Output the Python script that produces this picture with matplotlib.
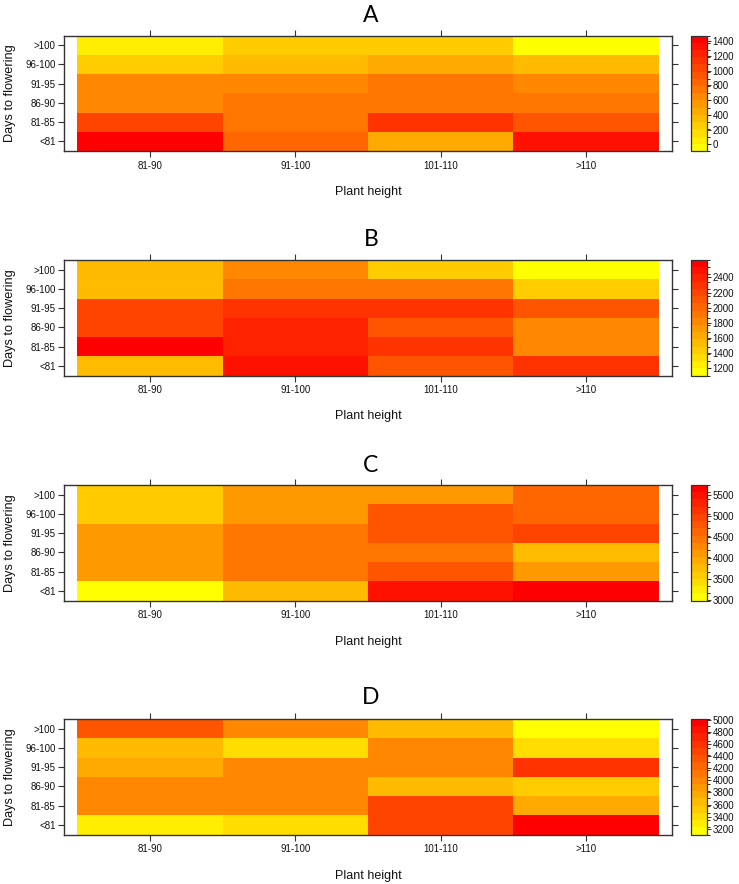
import numpy as np
import matplotlib
matplotlib.use("Agg")
import matplotlib.pyplot as plt
from matplotlib.colors import ListedColormap, BoundaryNorm

plt.rcParams['font.family'] = ['Liberation Sans', 'DejaVu Sans']

# ---- data ----
plant_height = ["81-90", "91-100", "101-110", ">110"]
days_to_flowering = ["<81", "81-85", "86-90", "91-95", "96-100", ">100"]  # bottom -> top
panel_titles = ["A", "B", "C", "D"]

# rows listed from bottom (<81) to top (>100); columns = plant height classes
values_A = [
    [1380, 830, 430, 1320],
    [1040, 780, 1140, 930],
    [650, 720, 740, 720],
    [640, 660, 760, 650],
    [250, 330, 440, 330],
    [80, 250, 250, 5],
]
values_B = [
    [1490, 2460, 2130, 2250],
    [2536, 2360, 2280, 1850],
    [2220, 2390, 2080, 1850],
    [2190, 2330, 2250, 2080],
    [1570, 1960, 1960, 1460],
    [1520, 1800, 1460, 1200],
]
values_C = [
    [3165, 3810, 5440, 5574],
    [4170, 4420, 4810, 4170],
    [4170, 4420, 4420, 3810],
    [4170, 4420, 4810, 5010],
    [3600, 4170, 4810, 4650],
    [3600, 4170, 4170, 4550],
]
values_D = [
    [3270, 3450, 4535, 4895],
    [3975, 3975, 4535, 3760],
    [3975, 3975, 3620, 3545],
    [3725, 3975, 3975, 4570],
    [3690, 3410, 3975, 3450],
    [4390, 3940, 3690, 3222],
]
cbar_ticks_A = [0, 200, 400, 600, 800, 1000, 1200, 1400]
cbar_ticks_B = [1200, 1400, 1600, 1800, 2000, 2200, 2400]
cbar_ticks_C = [3000, 3500, 4000, 4500, 5000, 5500]
cbar_ticks_D = [3200, 3400, 3600, 3800, 4000, 4200, 4400, 4600, 4800, 5000]

panels = [
    ("A", values_A, cbar_ticks_A),
    ("B", values_B, cbar_ticks_B),
    ("C", values_C, cbar_ticks_C),
    ("D", values_D, cbar_ticks_D),
]

# ---- style / layout ----
W, H = 739, 884
fig = plt.figure(figsize=(W / 100, H / 100), dpi=100)
fig.patch.set_facecolor("white")

ncol = 16
cols = [(1.0, 1.0 - i / (ncol - 1), 0.0) for i in range(ncol)]
cmap = ListedColormap(cols)

panel_tops = [35.5, 260, 485, 719]
panel_h = 115.5
ax_left, ax_right = 64, 672
cb_left, cb_w = 691, 15.5
title_y = [15, 240, 466, 697]

def fx(px):
    return px / W

def fy(py):
    return 1 - py / H

edge_col = "#333333"
txt_col = "#111111"

for (title, vals, cticks), top, ty in zip(panels, panel_tops, title_y):
    z = np.array(vals, dtype=float)
    zmin, zmax = z.min(), z.max()
    d = zmax - zmin
    zlo, zhi = zmin - 0.07 * d, zmax + 0.07 * d
    bounds = np.linspace(zlo, zhi, ncol + 1)
    norm = BoundaryNorm(bounds, ncol)

    ax = fig.add_axes([fx(ax_left), fy(top + panel_h), fx(ax_right - ax_left), panel_h / H])
    xe = np.arange(len(plant_height) + 1) + 0.5
    ye = np.arange(len(days_to_flowering) + 1) + 0.5
    mesh = ax.pcolormesh(xe, ye, z, cmap=cmap, norm=norm, shading="flat")
    ax.set_xlim(0.41, 4.59)
    ax.set_ylim(0.5, 6.5)
    ax.set_xticks(np.arange(1, len(plant_height) + 1))
    ax.set_xticklabels(plant_height, fontsize=7, color=txt_col)
    ax.set_yticks(np.arange(1, len(days_to_flowering) + 1))
    ax.set_yticklabels(days_to_flowering, fontsize=7, color=txt_col)
    ax.tick_params(axis="x", which="both", top=True, bottom=True, direction="out",
                   length=4.5, width=0.8, color=edge_col, pad=2.5)
    ax.tick_params(axis="y", which="both", left=True, right=True, direction="out",
                   length=4.5, width=0.8, color=edge_col, pad=1.5)
    for s in ax.spines.values():
        s.set_color(edge_col)
        s.set_linewidth(1.0)

    cy = top + panel_h / 2
    fig.text(fx(10), fy(cy), "Days to flowering", rotation=90, ha="center", va="center",
             fontsize=9.2, color=txt_col)
    fig.text(fx((ax_left + ax_right) / 2), fy(top + panel_h + 41), "Plant height",
             ha="center", va="center", fontsize=9, color=txt_col)
    fig.text(fx((ax_left + ax_right) / 2 + 3), fy(ty), title, ha="center", va="center",
             fontsize=16.5, family=["Lato", "DejaVu Sans"], color="black")

    cax = fig.add_axes([fx(cb_left), fy(top + panel_h), cb_w / W, panel_h / H])
    cb = fig.colorbar(mesh, cax=cax, ticks=cticks)
    cb.outline.set_edgecolor("#333333")
    cb.outline.set_linewidth(0.9)
    cax.tick_params(axis="y", direction="out", length=3, width=0.7, color=edge_col,
                    labelsize=7, labelcolor=txt_col, pad=1.5)
    cax.set_ylim(zlo, zhi)

fig.savefig("out.png", dpi=100, facecolor="white")
